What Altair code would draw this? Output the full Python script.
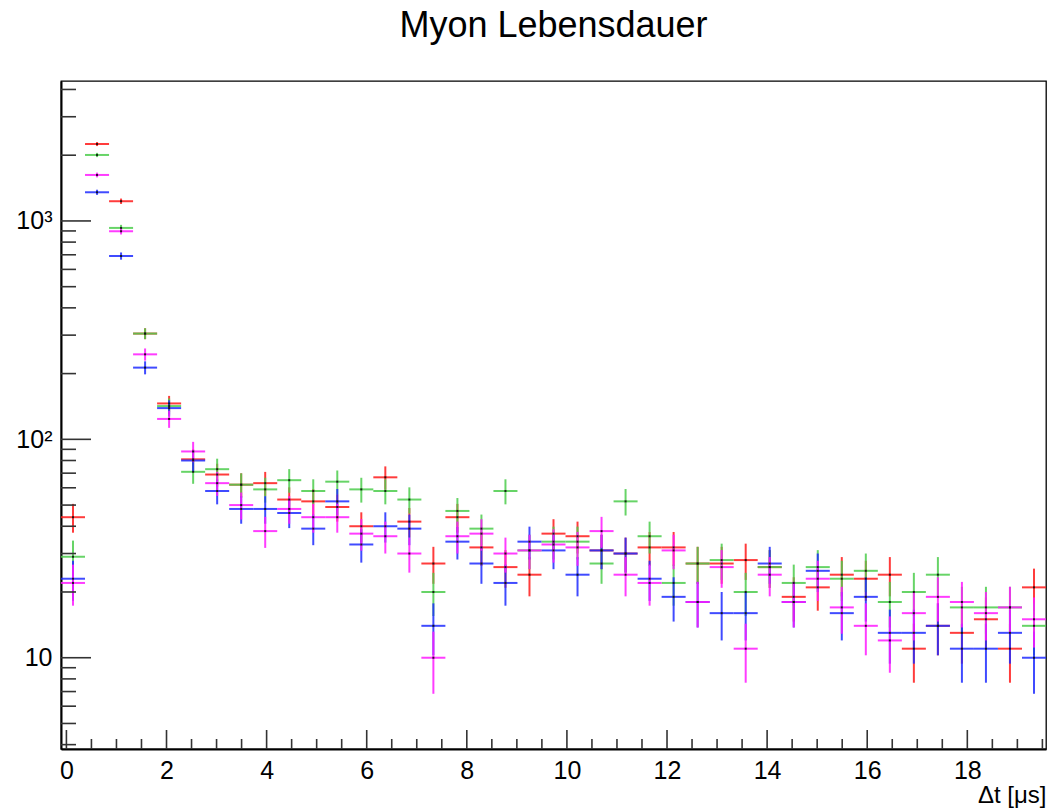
import math

import altair as alt
import pandas as pd

# Histogram binning: 41 bins of 0.48 us starting just below zero
N_BINS = 41
X_LOW = -0.108
BIN_WIDTH = 0.48

# Counts per bin for the four measurement channels
counts_red = [44, 2250, 1231, 305, 146, 81, 69, 62, 63, 53, 52, 49, 40, 67, 42, 27, 44, 32, 26, 24,
              37, 36, 31, 30, 32, 32, 27, 27, 28, 26, 19, 21, 24, 23, 24, 11, 14, 13, 15, 11, 21]
counts_green = [29, 2005, 929, 305, 142, 71, 73, 62, 59, 65, 58, 64, 59, 58, 53, 20, 47, 39, 58, 31,
                34, 34, 27, 52, 36, 22, 27, 28, 20, 26, 22, 26, 23, 25, 18, 20, 24, 17, 17, 17, 14]
counts_blue = [23, 1353, 691, 213, 139, 80, 58, 48, 48, 46, 39, 52, 33, 40, 39, 14, 34, 27, 22, 34,
               31, 24, 31, 30, 23, 19, 18, 16, 16, 27, 18, 25, 16, 19, 13, 13, 14, 11, 11, 13, 10]
counts_magenta = [22, 1624, 897, 245, 124, 88, 63, 50, 38, 48, 44, 44, 37, 36, 30, 10, 36, 37, 30, 31,
                  33, 32, 38, 24, 22, 31, 18, 26, 11, 24, 18, 23, 17, 14, 12, 16, 19, 18, 16, 17, 15]

series_names = ["rot", "gruen", "blau", "magenta"]
series_colors = ["#ff1a1a", "#4ccc4c", "#1f2cff", "#ff1aff"]
series_counts = [counts_red, counts_green, counts_blue, counts_magenta]

# Axis decoration values
x_major = [0, 2, 4, 6, 8, 10, 12, 14, 16, 18]
x_minor = [k * 0.5 for k in range(1, 40) if k % 4 != 0]
y_major = [10, 100, 1000]
y_minor = [m * 10 ** e for e in range(0, 4) for m in range(2, 10)
           if 3.9 < m * 10 ** e < 4400 and m * 10 ** e not in y_major]

rows = []
for order, (name, counts) in enumerate(zip(series_names, series_counts)):
    for i, n in enumerate(counts):
        lo = X_LOW + i * BIN_WIDTH
        err = math.sqrt(n)
        rows.append({
            "serie": name, "order": order,
            "x": lo + BIN_WIDTH / 2, "x_lo": lo, "x_hi": lo + BIN_WIDTH,
            "n": n, "n_lo": n - err, "n_hi": n + err,
        })
df = pd.DataFrame(rows)

PLOT_W, PLOT_H = 985, 668
FONT = "Liberation Sans"

x_scale = alt.Scale(domain=[X_LOW, X_LOW + N_BINS * BIN_WIDTH], nice=False, zero=False)
y_scale = alt.Scale(type="log", domain=[3.82, 4373], nice=False)
color = alt.Color("serie:N", scale=alt.Scale(domain=series_names, range=series_colors), legend=None)

x_axis = alt.Axis(values=x_major, ticks=False, grid=False, labelFontSize=25, labelFont=FONT,
                  labelColor="black", labelPadding=9, domainColor="black", domainWidth=2,
                  title="Δt [μs]", titleFont=FONT, titleFontSize=24, titleFontWeight="normal",
                  titleColor="black", titleAnchor="end", titlePadding=0)
y_axis = alt.Axis(values=y_major, ticks=False, grid=False, labelFontSize=25, labelFont=FONT,
                  labelColor="black", labelPadding=9, domainColor="black", domainWidth=2,
                  labelExpr="datum.value >= 1000 ? '10³' : (datum.value >= 100 ? '10²' : '10')",
                  title=None)

X = lambda f: alt.X(f, type="quantitative", scale=x_scale, axis=x_axis)
Y = lambda f: alt.Y(f, type="quantitative", scale=y_scale, axis=y_axis)

base = alt.Chart(df)

hbars = base.mark_rule(strokeWidth=2, opacity=0.85).encode(
    x=X("x_lo"), x2="x_hi", y=Y("n"), color=color, order="order:Q")
vbars = base.mark_rule(strokeWidth=2, opacity=0.85).encode(
    x=X("x"), y=Y("n_lo"), y2="n_hi", color=color, order="order:Q")
dots = base.mark_square(size=4, color="#111", opacity=0.9).encode(x=X("x"), y=Y("n"))

tick_style = dict(color="#333", strokeWidth=1.6)
xt_major = alt.Chart(pd.DataFrame({"x": x_major})).mark_rule(**tick_style).encode(
    x=X("x"), y=alt.value(PLOT_H), y2=alt.value(PLOT_H - 19))
xt_minor = alt.Chart(pd.DataFrame({"x": x_minor})).mark_rule(**tick_style).encode(
    x=X("x"), y=alt.value(PLOT_H), y2=alt.value(PLOT_H - 10))
yt_major = alt.Chart(pd.DataFrame({"n": y_major})).mark_rule(**tick_style).encode(
    y=Y("n"), x=alt.value(0), x2=alt.value(30))
yt_minor = alt.Chart(pd.DataFrame({"n": y_minor})).mark_rule(**tick_style).encode(
    y=Y("n"), x=alt.value(0), x2=alt.value(15))

chart = alt.layer(hbars, vbars, dots, xt_major, xt_minor, yt_major, yt_minor).properties(
    width=PLOT_W, height=PLOT_H,
    background="white",
    title=alt.TitleParams("Myon Lebensdauer", font=FONT, fontSize=36, fontWeight="normal",
                          color="black", anchor="middle", offset=36),
    autosize=alt.AutoSizeParams(type="none"),
    padding={"left": 61, "top": 81, "right": 2, "bottom": 61},
).configure_view(stroke="black", strokeWidth=1.3)

chart.save("out.html", embed_options={"renderer": "svg", "actions": False})
